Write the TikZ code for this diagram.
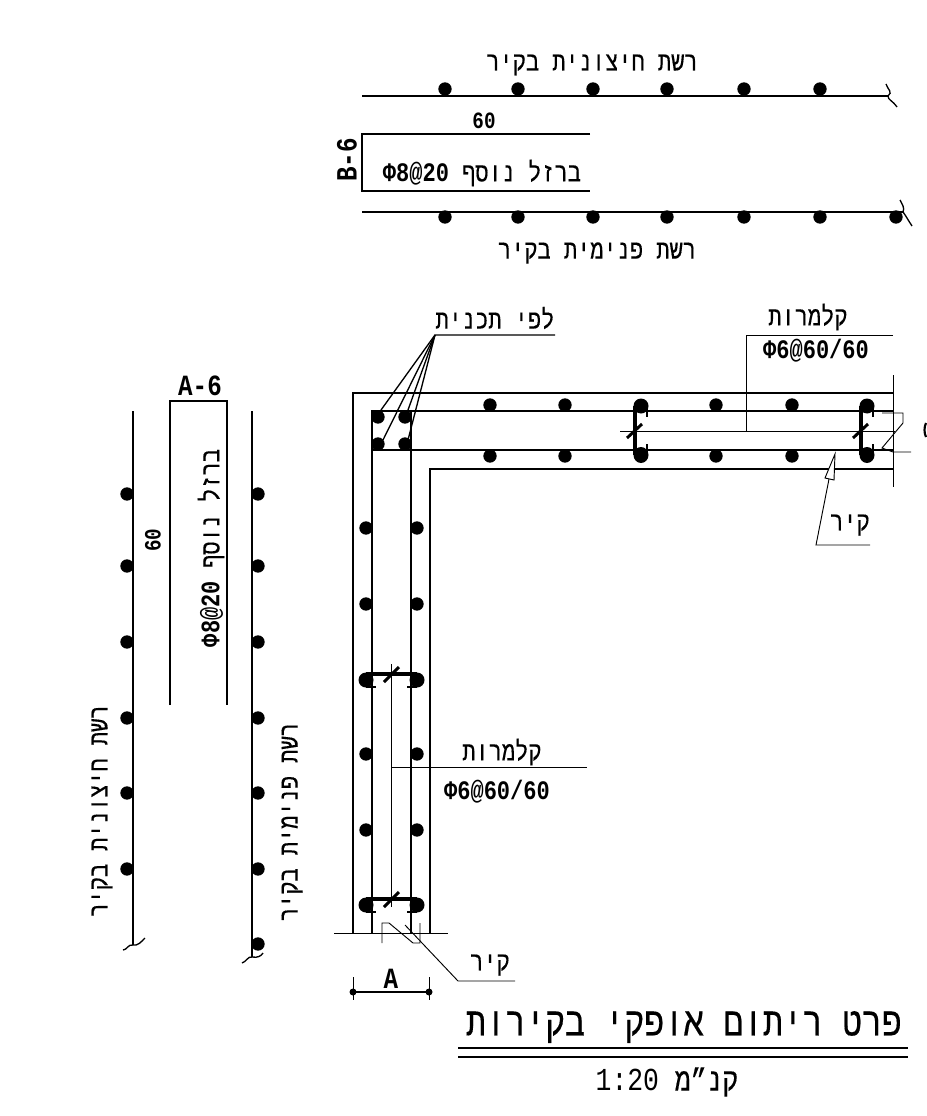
\documentclass[tikz,border=0pt]{standalone}
\usepackage{fontspec}
\setmainfont{Liberation Mono}[FakeStretch=0.825]
\newfontfamily\hebfont{Liberation Mono}[Script=Hebrew,FakeStretch=0.825,FakeBold=0.35]
\newcommand{\heb}[1]{{\hebfont\beginR #1\endR}}
\TeXXeTstate=1
\begin{document}
\begin{tikzpicture}[
  x=0.75pt, y=-0.75pt,
  wall/.style={line width=2pt},
  bar/.style={line width=2.2pt},
  thinline/.style={line width=0.7pt},
  leader/.style={line width=1pt},
  dot/.style={circle, fill=black, inner sep=0pt, minimum size=10pt},
  lbl/.style={inner sep=0pt, font=\fontsize{20}{22}\selectfont},
  small/.style={inner sep=0pt, font=\fontsize{20}{22}\bfseries\selectfont},
  dimlbl/.style={inner sep=0pt, font=\fontsize{22}{24}\bfseries\selectfont},
  num/.style={inner sep=0pt, font=\fontsize{17.5}{20}\bfseries\selectfont},
]
\useasboundingbox (0,0) rectangle (926,1116);

% top strip
\node[lbl] (outertop) at (592,65) {\heb{רשת חיצונית בקיר}};
\coordinate (ta) at (362,96);
\coordinate (tb) at (888,96);
\draw[bar] (ta) -- (tb);
\draw[leader] (tb) .. controls (893,92) and (888,90) .. (886,84);
\draw[leader] (tb) .. controls (888,100) and (892,100) .. (897,107);
\foreach \x in {445,518,593,667,744,820}
  \node[dot] (tu\x) at (\x,89) {};
\node[num] (sixtytop) at (484,121) {60};
\draw[bar] (590,134) -- (362,134) -- (362,191) -- (590,191);
\node[dimlbl, rotate=90] (bsix) at (347,160) {B-6};
\node[lbl] (addtop) at (482,173) {\textbf{Φ8@20} \heb{ברזל נוסף}};
\coordinate (tc) at (362,212);
\coordinate (td) at (903,212);
\draw[bar] (tc) -- (td);
\draw[leader] (td) .. controls (905,208) and (902,204) .. (900,200);
\draw[leader] (td) .. controls (906,216) and (908,220) .. (912,226);
\foreach \x in {445,518,593,667,744,820,896}
  \node[dot] (tl\x) at (\x,217) {};
\node[lbl] (innertop) at (597,253) {\heb{רשת פנימית בקיר}};

% left strip
\node[lbl, rotate=90] (outerleft) at (102,811) {\heb{רשת חיצונית בקיר}};
\node[lbl, rotate=90] (innerleft) at (292,822) {\heb{רשת פנימית בקיר}};
\draw[bar] (133,411) -- (133,945);
\draw[bar] (252,411) -- (252,957);
\draw[leader] (133,945) .. controls (128,944) and (127,950) .. (123,950);
\draw[leader] (133,945) .. controls (138,946) and (141,942) .. (145,938);
\draw[leader] (252,957) .. controls (248,956) and (246,962) .. (242,963);
\draw[leader] (252,957) .. controls (258,958) and (261,956) .. (263,953);
\foreach \y in {494,566,642,718,793,869} {
  \node[dot] (ll\y) at (127,\y) {};
  \node[dot] (lr\y) at (258,\y) {};
}
\node[dot] (lr944) at (258,944) {};
\draw[bar] (170,705) -- (170,401) -- (227,401) -- (227,705);
\node[dimlbl] (asix) at (200,386) {A-6};
\node[num, rotate=90] (sixtyleft) at (153,540) {60};
\node[lbl, rotate=90] (addleft) at (211,548) {\textbf{Φ8@20} \heb{ברזל נוסף}};

% wall outline
\draw[wall] (353,933) -- (353,393) -- (893,393);
\draw[wall] (430,933) -- (430,469) -- (893,469);
\draw[bar] (893,411) -- (372,411) -- (372,933);
\draw[bar] (893,450) -- (372,450);
\draw[bar] (411,411) -- (411,933);
\draw[thinline] (334,933) -- (448,933);
\draw[thinline] (893,375) -- (893,487);

% corner bars
\foreach \x in {378,405}
  \foreach \y in {417,444}
    \node[dot] (c\x-\y) at (\x,\y) {};
\fill (371,410) rectangle (378,417);
\foreach \x in {490,565,716,792} {
  \node[dot] (hu\x) at (\x,405) {};
  \node[dot] (hl\x) at (\x,456) {};
}
\foreach \y in {528,604,754,830} {
  \node[dot] (vl\y) at (366,\y) {};
  \node[dot] (vr\y) at (417,\y) {};
}

% ties, horizontal leg
\foreach \x in {641,867} {
  \fill (\x,406) ellipse (7.5 and 7.5);
  \fill (\x,455) ellipse (7.5 and 8);
  \draw[line width=2.6pt] (\x-6,406) -- (\x-6,455);
  \draw[bar] (\x+6,406) -- (\x+6,417) (\x+6,444) -- (\x+6,455);
  \draw[bar] (\x-14,438) -- (\x+1,424);
}
\draw[thinline] (620,431) -- (895,431);

% ties, vertical leg
\foreach \y in {680,905} {
  \fill (366,\y) ellipse (7.5 and 7.5);
  \fill (417,\y) ellipse (7.5 and 7.5);
  \draw[line width=2.6pt] (366,\y-6) -- (417,\y-6);
  \draw[bar] (366,\y+7) -- (376,\y+7) (407,\y+7) -- (417,\y+7);
  \draw[bar] (384,\y+2) -- (399,\y-13);
}
\draw[thinline] (391,664) -- (391,907);

% labels
\node[lbl] (plan) at (495,318) {\heb{לפי תכנית}};
\coordinate (pl) at (435,335);
\draw[leader] (555,335) -- (pl) -- (381,410);
\draw[leader] (pl) -- (383,440);
\draw[leader] (pl) -- (408,410);
\draw[leader] (pl) -- (408,440);
\node[lbl] (tiestop) at (808,317) {\heb{קלמרות}};
\node[small] (tiesbartop) at (816,351) {Φ6@60/60};
\draw[thinline] (893,335) -- (746,335) -- (746,431);
\node[lbl] (tieslow) at (502,752) {\heb{קלמרות}};
\node[small] (tiesbarlow) at (497,792) {Φ6@60/60};
\draw[thinline] (391,767) -- (587,767);
\node[lbl] (walltop) at (850,525) {\heb{קיר}};
\draw[thinline] (870,545) -- (816,545) -- (829,479);
\draw[thinline, fill=white] (835,454) -- (825,478) -- (834,480) -- cycle;
\draw[thinline] (882,413) -- (903,413) -- (903,423) -- (882,448) -- (893,452) -- (911,452);
\node[lbl] (walllow) at (490,965) {\heb{קיר}};
\draw[thinline] (515,981) -- (458,981) -- (405,925);
\draw[thinline] (382,943) -- (382,923) -- (389,923) -- (413,943) -- (420,943) -- (420,923);
\draw[line width=1.6pt] (926,423) .. controls (924,427) and (924,433) .. (926,437);

% dimension
\node[dimlbl] (dima) at (391,979) {A};
\draw[thinline] (353,977) -- (353,1000) (429,977) -- (429,1000);
\draw[leader] (353,992) -- (429,992);
\fill (353,992) circle (3.5) (429,992) circle (3.5);

% title
\node[inner sep=0pt, font=\fontsize{30}{32}\selectfont] (title) at (684,1027) {\heb{פרט ריתום אופקי בקירות}};
\draw[line width=2pt] (458,1048) -- (908,1048);
\draw[line width=2pt] (458,1057) -- (908,1057);
\node[inner sep=0pt, font=\fontsize{24}{26}\selectfont] (scale) at (667,1082) {1:20 \heb{קנ”מ}};
\end{tikzpicture}
\end{document}
